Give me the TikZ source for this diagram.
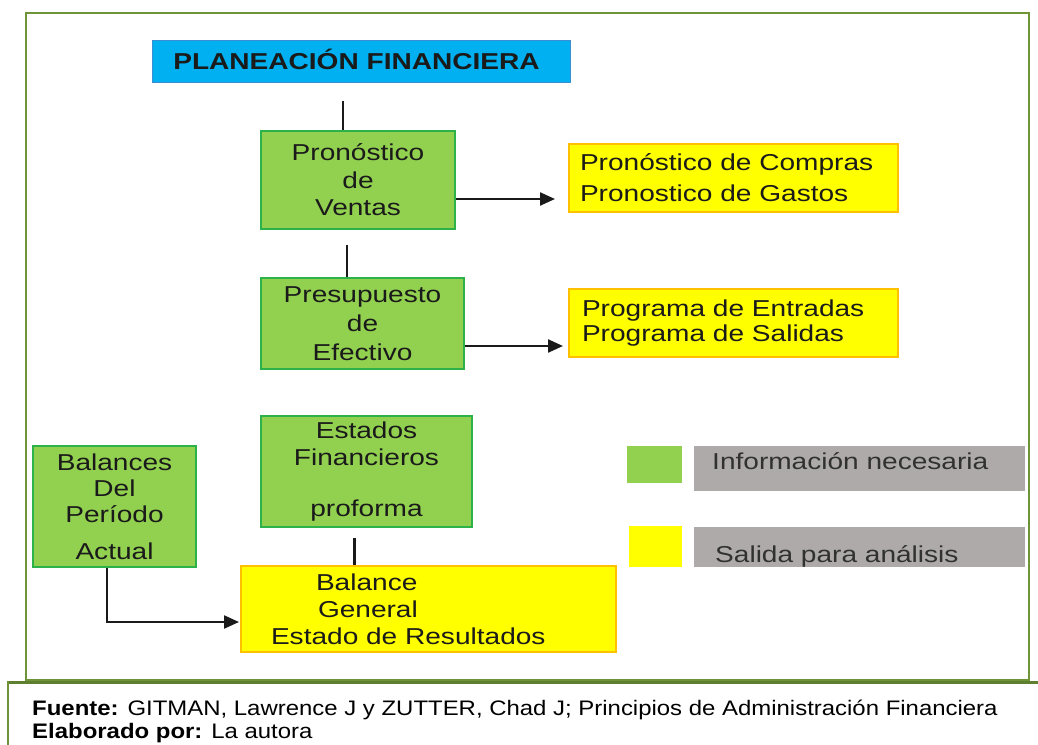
\documentclass[tikz,border=0pt]{standalone}
\usepackage{fontspec}
\setmainfont{Liberation Sans}[FakeStretch=1.22]
\newfontfamily\footfont{Liberation Sans}[FakeStretch=1.14]
\usetikzlibrary{arrows.meta}
\definecolor{gfill}{HTML}{92D050}
\definecolor{gborder}{HTML}{2DB24A}
\definecolor{yfill}{HTML}{FFFF00}
\definecolor{yborder}{HTML}{FFC000}
\definecolor{tfill}{HTML}{00B0F0}
\definecolor{tborder}{HTML}{3B8FD0}
\definecolor{lgray}{HTML}{AEAAAA}
\definecolor{frame}{HTML}{6F9438}
\definecolor{ink}{HTML}{1A1A1A}
\begin{document}
\begin{tikzpicture}[x=1pt,y=-1pt,
  every node/.style={inner sep=0pt, text=ink},
  gbox/.style={draw=gborder, fill=gfill, line width=1.3pt, align=center},
  ybox/.style={draw=yborder, fill=yfill, line width=1.1pt, align=left},
  tbox/.style={draw=tborder, fill=tfill, line width=0.8pt, font=\bfseries\fontsize{23}{27}\selectfont, text height=17pt, text depth=0pt},
  lsq/.style={draw=none},
  lgraybox/.style={fill=lgray, draw=none},
  ltext/.style={anchor=base west, font=\fontsize{23}{27}\selectfont, text=ink!90},
  conn/.style={draw=ink, line width=2.3pt},
  arr/.style={conn, -{Triangle[length=15pt,width=13pt]}},
  ftext/.style={anchor=base west, font=\footfont\fontsize{21}{26}\selectfont, text=black}
]
\useasboundingbox[fill=white] (0,0) rectangle (1038,744);

% outer frame
\draw[frame, line width=2pt] (26,13) rectangle (1029,680);
% footer frame
\draw[frame!85!black, line width=3pt] (1040,682) -- (8,682);
\draw[frame, line width=1.6pt] (8,681) -- (8,746);

% title
\node[tbox, minimum width=418pt, minimum height=42pt] (title) at (361,61) {\hspace*{-9pt}PLANEACIÓN FINANCIERA};

% green boxes
\node[gbox, minimum width=194pt, minimum height=98pt, font=\fontsize{23}{27.5}\selectfont] (pv) at (358,180) {Pronóstico\\de\\Ventas};
\node[gbox, minimum width=203pt, minimum height=91pt, font=\fontsize{23}{29}\selectfont] (pe) at (362.5,323.5) {Presupuesto\\de\\Efectivo};
\node[gbox, minimum width=211pt, minimum height=111pt, font=\fontsize{23}{27}\selectfont] (ef) at (366.5,471.5) {Estados\\Financieros\\[24pt]proforma};
\node[gbox, minimum width=163pt, minimum height=121pt, font=\fontsize{23}{26}\selectfont] (bal) at (114.5,506.5) {Balances\\Del\\Período\\[11pt]Actual};

% yellow boxes
\node[ybox, minimum width=329pt, minimum height=68pt, font=\fontsize{23}{31}\selectfont] (y1) at (733.5,178) {\makebox[307pt][l]{Pronóstico de Compras}\\Pronostico de Gastos};
\node[ybox, minimum width=329pt, minimum height=68pt, font=\fontsize{23}{25}\selectfont] (y2) at (733.5,323) {\makebox[303pt][l]{Programa de Entradas}\\Programa de Salidas};
\node[ybox, minimum width=375pt, minimum height=86pt, font=\fontsize{23}{27}\selectfont] (bg) at (428.5,609) {\makebox[315pt][l]{\hspace*{45pt}Balance}\\\makebox[315pt][l]{\hspace*{47pt}General}\\Estado de Resultados};

% legend
\node[lsq, fill=gfill, minimum width=55pt, minimum height=37pt] (lg) at (654.5,464.5) {};
\node[lsq, fill=yfill, minimum width=53pt, minimum height=41pt] (ly) at (655.5,546.5) {};
\node[lgraybox, minimum width=331pt, minimum height=45pt] (g1) at (859.5,468.5) {};
\node[lgraybox, minimum width=331pt, minimum height=40pt] (g2) at (859.5,547) {};
\node[ltext] (lt1) at (712,469) {Información necesaria};
\node[ltext] (lt2) at (715,562) {Salida para análisis};

% connectors
\coordinate (c1) at (343,101);
\draw[conn] (c1) -- (c1 |- pv.north);
\coordinate (c2) at (347,245);
\draw[conn] (c2) -- (c2 |- pe.north);
\coordinate (c3) at (354.5,538);
\draw[conn] (c3) -- (c3 |- bg.north);
\coordinate (a1) at (555,199);
\draw[arr] (a1 -| pv.east) -- (a1);
\coordinate (a2) at (563,346);
\draw[arr] (a2 -| pe.east) -- (a2);
\coordinate (a3) at (239,622);
\draw[arr] ([xshift=-7.5pt]bal.south) |- (a3);

% footer
\node[ftext] (f1) at (32,715.5) {\textbf{Fuente:} GITMAN, Lawrence J y ZUTTER, Chad J; Principios de Administración Financiera};
\node[ftext] (f2) at (32,738.5) {\textbf{Elaborado por:} La autora};
\end{tikzpicture}
\end{document}
